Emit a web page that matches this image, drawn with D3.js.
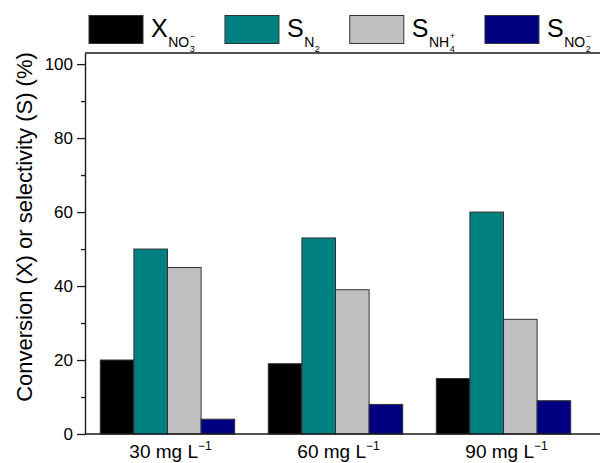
<!DOCTYPE html>
<html>
<head>
<meta charset="utf-8">
<script src="https://cdn.jsdelivr.net/npm/d3@7"></script>
<style>
  html, body { margin: 0; padding: 0; background: #fff; }
  svg { display: block; font-family: "Liberation Sans", Arial, sans-serif; }
</style>
</head>
<body>
<svg id="chart" width="600" height="463"></svg>
<script>
// Nitrate concentrations (x categories)
const concentrations = ["30", "60", "90"];
const concentrationUnit = "mg L";
const unitExponent = "\u22121";

// Nitrate conversion and product selectivities, %
const conversionNO3 = [20, 19, 15];
const selectivityN2 = [50, 53, 60];
const selectivityNH4 = [45, 39, 31];
const selectivityNO2 = [4, 8, 9];

const seriesKeys = ["XNO3", "SN2", "SNH4", "SNO2"];
const seriesColors = ["#000000", "#008080", "#c0c0c0", "#000080"];

// Legend labels: main symbol, subscript, second-level subscript, charge
const legendMain = ["X", "S", "S", "S"];
const legendSub = ["NO", "N", "NH", "NO"];
const legendSubSub = ["3", "2", "4", "2"];
const legendCharge = ["\u2212", "", "+", "\u2212"];

const yMajorTicks = [0, 20, 40, 60, 80, 100];
const yMinorTicks = [10, 30, 50, 70, 90];
const yTitle = "Conversion (X) or selectivity (S) (%)";

const seriesValues = [conversionNO3, selectivityN2, selectivityNH4, selectivityNO2];
const rows = concentrations.map((c, i) => ({
  c,
  values: seriesKeys.map((k, j) => ({ key: k, value: seriesValues[j][i], color: seriesColors[j] }))
}));

const W = 600, H = 463;
const plotLeft = 85, plotTop = 53, plotBottom = 434;
const axisColor = "#1a1a1a";

const svg = d3.select("#chart");
svg.append("rect").attr("width", W).attr("height", H).attr("fill", "#fff");

const y = d3.scaleLinear().domain([0, 103]).range([plotBottom, plotTop]);
const x0 = d3.scaleBand().domain(concentrations).range([plotLeft, 586])
  .paddingInner(0.2).paddingOuter(0.091);
const x1 = d3.scaleBand().domain(seriesKeys).range([0, x0.bandwidth()]).padding(0);

// bars
const groups = svg.append("g").selectAll("g").data(rows).join("g")
  .attr("transform", d => `translate(${x0(d.c)},0)`);
groups.selectAll("rect").data(d => d.values).join("rect")
  .attr("x", d => x1(d.key))
  .attr("y", d => y(d.value))
  .attr("width", x1.bandwidth())
  .attr("height", d => y(0) - y(d.value))
  .attr("fill", d => d.color)
  .attr("stroke", "#333")
  .attr("stroke-width", 1);

// frame lines (top and bottom)
svg.append("line").attr("x1", plotLeft).attr("x2", W + 5).attr("y1", plotTop).attr("y2", plotTop)
  .attr("stroke", axisColor).attr("stroke-width", 1.4);
svg.append("line").attr("x1", plotLeft).attr("x2", W + 5).attr("y1", plotBottom).attr("y2", plotBottom)
  .attr("stroke", axisColor).attr("stroke-width", 1.4);

// y axis
const yAxis = svg.append("g").attr("transform", `translate(${plotLeft},0)`)
  .call(d3.axisLeft(y).tickValues(yMajorTicks).tickSize(8).tickSizeOuter(0).tickPadding(4));
yAxis.select(".domain").attr("stroke", axisColor).attr("stroke-width", 1.4);
yAxis.selectAll(".tick line").attr("stroke", axisColor).attr("stroke-width", 1.3);
yAxis.selectAll(".tick text").attr("font-size", 17).attr("fill", "#000")
  .attr("font-family", "Liberation Sans, Arial, sans-serif");

const yMinor = svg.append("g").attr("transform", `translate(${plotLeft},0)`)
  .call(d3.axisLeft(y).tickValues(yMinorTicks).tickSize(4).tickFormat(""));
yMinor.select(".domain").remove();
yMinor.selectAll(".tick line").attr("stroke", axisColor).attr("stroke-width", 1.3);

// x labels
const xl = svg.append("g").selectAll("text").data(concentrations).join("text")
  .attr("x", d => x0(d) + x0.bandwidth() / 2 + 3)
  .attr("y", 458)
  .attr("text-anchor", "middle")
  .attr("font-size", 19)
  .attr("fill", "#000");
xl.append("tspan").text(d => `${d} ${concentrationUnit}`);
xl.append("tspan").attr("font-size", 12).attr("dy", -8).text(unitExponent);

// y title
svg.append("text")
  .attr("transform", `translate(32,227) rotate(-90)`)
  .attr("text-anchor", "middle")
  .attr("font-size", 22)
  .attr("fill", "#000")
  .text(yTitle);

// legend
const legend = svg.append("g");
let lx = 89;
seriesKeys.forEach((k, i) => {
  const g = legend.append("g");
  g.append("rect").attr("x", lx).attr("y", 15.5).attr("width", 54).attr("height", 28)
    .attr("fill", seriesColors[i]).attr("stroke", "#333").attr("stroke-width", 1);
  let tx = lx + 54 + 8;
  const m = g.append("text").attr("x", tx).attr("y", 37).attr("font-size", 25).text(legendMain[i]);
  tx += m.node().getComputedTextLength() + 0.5;
  const s = g.append("text").attr("x", tx).attr("y", 47).attr("font-size", 14).text(legendSub[i]);
  tx += s.node().getComputedTextLength() + 0.5;
  const ss = g.append("text").attr("x", tx).attr("y", 52).attr("font-size", 9).text(legendSubSub[i]);
  let w = ss.node().getComputedTextLength();
  if (legendCharge[i]) {
    const ch = g.append("text").attr("x", tx).attr("y", 39).attr("font-size", 9).text(legendCharge[i]);
    w = Math.max(w, ch.node().getComputedTextLength());
  }
  tx += w;
  lx = tx + 30;
});
</script>
</body>
</html>
